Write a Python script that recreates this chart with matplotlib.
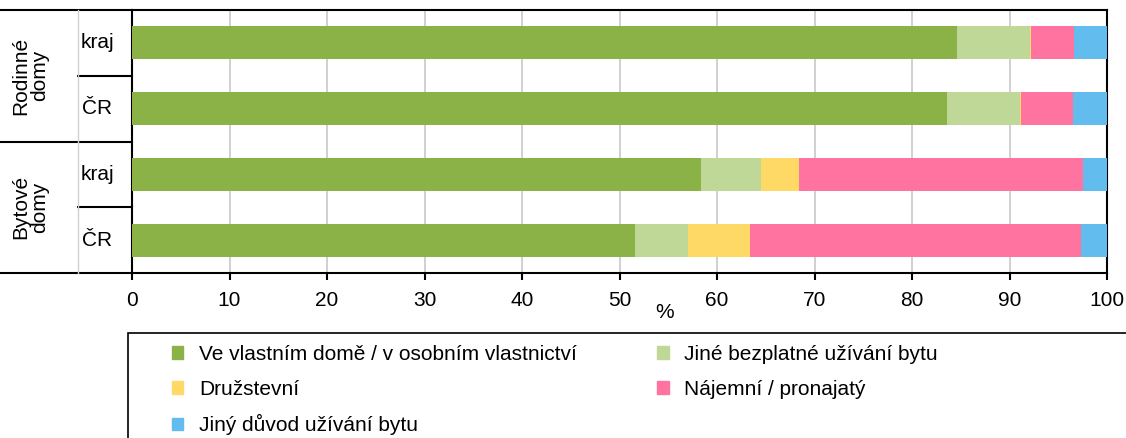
import numpy as np
import matplotlib.pyplot as plt
from matplotlib.patches import Patch, Rectangle
from matplotlib.lines import Line2D

plt.rcParams['font.family'] = ['Liberation Sans', 'DejaVu Sans']
plt.rcParams['font.size'] = 15

rows = ['kraj', 'ČR', 'kraj', 'ČR']
groups = ['Rodinné\ndomy', 'Bytové\ndomy']
series = ['Ve vlastním domě / v osobním vlastnictví', 'Jiné bezplatné užívání bytu',
          'Družstevní', 'Nájemní / pronajatý', 'Jiný důvod užívání bytu']
vlastni = [84.6, 83.6, 58.4, 51.6]
bezplatne = [7.5, 7.5, 6.1, 5.4]
druzstevni = [0.1, 0.1, 3.9, 6.4]
najemni = [4.4, 5.3, 29.1, 33.9]
jiny = [3.4, 3.5, 2.5, 2.7]
colors = ['#8AB246', '#C0D897', '#FFD966', '#FF73A0', '#63BCEE']

fig = plt.figure(figsize=(11.26, 4.38), dpi=100)
ax = fig.add_axes([132/1126, 1-273/438, 975/1126, 263/438])

y = np.arange(len(rows))
left = np.zeros(len(rows))
for vals, c, name in zip([vlastni, bezplatne, druzstevni, najemni, jiny], colors, series):
    ax.barh(y, vals, left=left, height=0.5, color=c, label=name, zorder=3)
    left += np.array(vals)

ax.set_xlim(0, 100)
ax.set_ylim(3.5, -0.5)
ax.set_xticks(range(0, 101, 10))
ax.set_yticks([])
ax.grid(axis='x', color='#C8C8C8', lw=1.2, zorder=0)
ax.tick_params(axis='x', direction='out', length=5, width=1.5, pad=8)
for s in ax.spines.values():
    s.set_linewidth(1.5)
ax.set_xlabel('%')
ax.xaxis.set_label_coords(0.546, -0.115)

# left category area
tr = ax.transAxes
x0 = -132/975
x1 = -54/975
for yy in [1.0, 0.5, 0.0]:
    ax.add_line(Line2D([x0, 0], [yy, yy], transform=tr, color='black', lw=1.5, clip_on=False))
for yy in [0.75, 0.25]:
    ax.add_line(Line2D([x1, 0], [yy, yy], transform=tr, color='black', lw=1.5, clip_on=False))
ax.add_line(Line2D([x1, x1], [0, 1], transform=tr, color='#D0D0D0', lw=1, clip_on=False))
for i, r in enumerate(rows):
    ax.text(-35/975, 1 - (i + 0.5) / 4, r, transform=tr, ha='center', va='center')
for i, g in enumerate(groups):
    ax.text(-102/975, 1 - (i * 2 + 1) / 4, g, transform=tr, ha='center', va='center',
            rotation=90, linespacing=0.95)

# legend
fig.patches.append(Rectangle((128/1126, -0.05), 1.0, (1-333/438) + 0.05,
                             transform=fig.transFigure, fill=False, ec='black', lw=1.2))
handles = [Patch(color=c) for c in colors]
order = [0, 2, 4, 1, 3]
fig.legend([handles[i] for i in order], [series[i] for i in order], ncol=2,
           loc='upper left', bbox_to_anchor=(172/1126, 1-345/438), frameon=False,
           handlelength=0.55, handleheight=0.55, handletextpad=0.75,
           columnspacing=3.85, labelspacing=0.75, borderaxespad=0, borderpad=0)

fig.savefig('out.png', dpi=100)
